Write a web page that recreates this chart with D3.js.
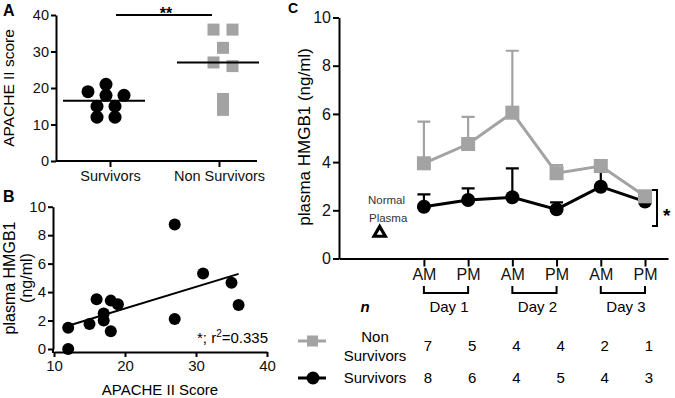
<!DOCTYPE html>
<html>
<head>
<meta charset="utf-8">
<script src="https://cdn.jsdelivr.net/npm/d3@7"></script>
<style>
  body { margin: 0; background: #fff; }
  svg { display: block; font-family: Arial, "Liberation Sans", sans-serif; }
  .axis { font-family: Arial, "Liberation Sans", sans-serif; }
  .axis path, .axis line { stroke: #000; stroke-width: 2; }
  .axis text { fill: #111; }
</style>
</head>
<body>
<div id="figure"></div>
<script>
// ---- panel A: APACHE II score by outcome
const groupNames = ["Survivors", "Non Survivors"];
const survivorsApache = [21, 18, 18, 19, 15, 15, 12, 12];
const nonSurvivorsApache = [36, 36, 31, 27, 26, 17, 14];

// ---- panel B: HMGB1 vs APACHE II
const apacheScore = [12, 12, 15, 16, 17, 17, 18, 18, 19, 27, 27, 31, 35, 36];
const plasmaHmgb1 = [1.5, 0, 1.75, 3.5, 2.5, 2.0, 3.4, 1.25, 3.15, 8.75, 2.1, 5.3, 4.65, 3.1];

// ---- panel C: time course
const timeLabels = ["AM", "PM", "AM", "PM", "AM", "PM"];
const dayLabels = ["Day 1", "Day 2", "Day 3"];
const nonSurvMean = [3.95, 4.75, 6.05, 3.54, 3.84, 2.58];
const nonSurvUpper = [5.68, 5.88, 8.62, 3.88, 3.95, 2.58];
const survMean = [2.15, 2.43, 2.54, 2.04, 2.98, 2.36];
const survUpper = [2.66, 2.91, 3.74, 2.33, 3.6, 2.36];
const nonSurvN = [7, 5, 4, 4, 2, 1];
const survN = [8, 6, 4, 5, 4, 3];
const normalPlasma = 1.1;

const GREY = "#a3a3a3";

function drawFigure() {
    d3.select("svg").remove();

    const svg = d3.select("#figure")
        .append("svg")
        .attr("width", 675)
        .attr("height", 398);

    const letter = (t, x, y, size) => svg.append("text")
        .attr("x", x).attr("y", y)
        .attr("font-size", size).attr("font-weight", "bold")
        .text(t);

    // ================= A =================
    const gA = svg.append("g");
    const yA = d3.scaleLinear().domain([0, 40]).range([161, 15]);
    const xA = d3.scalePoint().domain(groupNames).range([110, 219]);

    gA.append("g")
        .attr("class", "axis")
        .attr("transform", "translate(56,0)")
        .call(d3.axisLeft(yA).ticks(4).tickSize(5).tickSizeOuter(0).tickPadding(2))
        .selectAll("text").attr("font-size", 14.5);

    const xAxisA = gA.append("g")
        .attr("class", "axis")
        .attr("transform", `translate(0,${yA(0)})`)
        .call(d3.axisBottom(xA).tickSize(6).tickSizeOuter(0).tickPadding(4));
    xAxisA.select(".domain").attr("d", "M56,0H257");
    xAxisA.selectAll("text").attr("font-size", 14.5);

    // arrange dots in rows, like a column scatter
    function rowLayout(values, cx, gap) {
        const pts = values.map(v => ({ v })).sort((a, b) => b.v - a.v);
        const rows = [];
        pts.forEach(p => {
            const last = rows[rows.length - 1];
            if (last && yA(p.v) - yA(last[0].v) < 6) last.push(p);
            else rows.push([p]);
        });
        rows.forEach(r => r.forEach((p, k) => { p.x = cx + (k - (r.length - 1) / 2) * gap; }));
        return pts;
    }

    gA.append("g").selectAll("circle")
        .data(rowLayout(survivorsApache, xA("Survivors") - 4, 18))
        .enter().append("circle")
        .attr("cx", d => d.x)
        .attr("cy", d => yA(d.v))
        .attr("r", 6.5)
        .attr("fill", "#000");

    gA.append("g").selectAll("rect")
        .data(rowLayout(nonSurvivorsApache, xA("Non Survivors") + 4, 19))
        .enter().append("rect")
        .attr("x", d => d.x - 6)
        .attr("y", d => yA(d.v) - 6)
        .attr("width", 12).attr("height", 12)
        .attr("fill", GREY);

    [survivorsApache, nonSurvivorsApache].forEach((vals, i) => {
        const m = d3.median(vals);
        const cx = xA(groupNames[i]) - (i === 0 ? 5 : 0);
        gA.append("line")
            .attr("x1", cx - 42).attr("x2", cx + 40)
            .attr("y1", yA(m)).attr("y2", yA(m))
            .attr("stroke", "#000").attr("stroke-width", 2);
    });

    gA.append("line")
        .attr("x1", 116).attr("x2", 212)
        .attr("y1", yA(40)).attr("y2", yA(40))
        .attr("stroke", "#000").attr("stroke-width", 2);
    gA.append("text")
        .attr("x", 166).attr("y", 19)
        .attr("text-anchor", "middle")
        .attr("font-size", 16).attr("font-weight", "bold")
        .text("**");

    gA.append("text")
        .attr("transform", "translate(14,88) rotate(-90)")
        .attr("text-anchor", "middle")
        .attr("font-size", 15.5)
        .text("APACHE II score");

    letter("A", 3, 16, 16);

    // ================= B =================
    const gB = svg.append("g");
    const xB = d3.scaleLinear().domain([10, 40]).range([54, 267]);
    const yB = d3.scaleLinear().domain([0, 10]).range([349, 206.7]);

    gB.append("g")
        .attr("class", "axis")
        .attr("transform", "translate(53,0)")
        .call(d3.axisLeft(yB).ticks(5).tickSize(5).tickSizeOuter(0).tickPadding(2))
        .selectAll("text").attr("font-size", 15);

    gB.append("g")
        .attr("class", "axis")
        .attr("transform", `translate(0,${yB(0) + 3})`)
        .call(d3.axisBottom(xB).ticks(3).tickSize(5).tickSizeOuter(0).tickPadding(3))
        .selectAll("text").attr("font-size", 15);

    gB.append("line")
        .attr("x1", 53).attr("x2", 53)
        .attr("y1", yB(0)).attr("y2", yB(0) + 4)
        .attr("stroke", "#000").attr("stroke-width", 2);

    // least-squares fit
    const mx = d3.mean(apacheScore), my = d3.mean(plasmaHmgb1);
    const sxy = d3.sum(apacheScore, (x, i) => (x - mx) * (plasmaHmgb1[i] - my));
    const sxx = d3.sum(apacheScore, x => (x - mx) ** 2);
    const slope = sxy / sxx, icpt = my - slope * mx;
    const ext = d3.extent(apacheScore);

    gB.append("line")
        .attr("x1", xB(ext[0])).attr("y1", yB(icpt + slope * ext[0]))
        .attr("x2", xB(ext[1])).attr("y2", yB(icpt + slope * ext[1]))
        .attr("stroke", "#000").attr("stroke-width", 2);

    gB.append("g").selectAll("circle")
        .data(apacheScore)
        .enter().append("circle")
        .attr("cx", d => xB(d))
        .attr("cy", (d, i) => yB(plasmaHmgb1[i]))
        .attr("r", 6)
        .attr("fill", "#000");

    const r2 = gB.append("text")
        .attr("x", 268).attr("y", 343)
        .attr("text-anchor", "end")
        .attr("font-size", 15);
    r2.append("tspan").text("*; r");
    r2.append("tspan").attr("dy", -6).attr("font-size", 10).text("2");
    r2.append("tspan").attr("dy", 6).text("=0.335");

    gB.append("text")
        .attr("x", 160).attr("y", 395)
        .attr("text-anchor", "middle")
        .attr("font-size", 15)
        .text("APACHE II Score");

    const ylB = gB.append("text")
        .attr("transform", "translate(0,278) rotate(-90)")
        .attr("text-anchor", "middle")
        .attr("font-size", 16);
    ylB.append("tspan").attr("x", 0).attr("y", 15).text("plasma HMGB1");
    ylB.append("tspan").attr("x", 0).attr("y", 32).text("(ng/ml)");

    letter("B", 3, 202, 16);

    // ================= C =================
    const gC = svg.append("g");
    const xC = d3.scaleLinear().domain([-0.92, 6.52]).range([339, 668]);
    const yC = d3.scaleLinear().domain([0, 10]).range([258.5, 17.5]);
    const idx = d3.range(1, timeLabels.length + 1);

    gC.append("g")
        .attr("class", "axis")
        .attr("transform", "translate(339,0)")
        .call(d3.axisLeft(yC).ticks(5).tickSize(6).tickSizeOuter(0).tickPadding(2))
        .selectAll("text").attr("font-size", 16);

    gC.append("g")
        .attr("class", "axis")
        .attr("transform", `translate(0,${yC(0)})`)
        .call(d3.axisBottom(xC).tickValues(idx).tickFormat(i => timeLabels[i - 1])
            .tickSize(8).tickSizeOuter(0).tickPadding(2))
        .selectAll("text").attr("font-size", 16);

    gC.append("text")
        .attr("transform", "translate(310,137) rotate(-90)")
        .attr("text-anchor", "middle")
        .attr("font-size", 17)
        .text("plasma HMGB1 (ng/ml)");

    // day brackets
    dayLabels.forEach((d, k) => {
        const x0 = xC(2 * k + 1), x1 = xC(2 * k + 2);
        gC.append("path")
            .attr("d", `M${x0},286V293H${x1}V286`)
            .attr("fill", "none").attr("stroke", "#000").attr("stroke-width", 2);
        gC.append("text")
            .attr("x", (x0 + x1) / 2 + 3).attr("y", 312)
            .attr("text-anchor", "middle")
            .attr("font-size", 15)
            .text(d);
    });

    const line = d3.line().x((d, i) => xC(i + 1)).y(d => yC(d));

    function series(mean, upper, color, shape) {
        const g = gC.append("g");
        g.selectAll(".err")
            .data(mean)
            .enter().append("path")
            .attr("d", (d, i) => {
                const x = xC(i + 1), y0 = yC(d), y1 = yC(upper[i]);
                return `M${x},${y0}V${y1}M${x - 6.5},${y1}H${x + 6.5}`;
            })
            .attr("fill", "none").attr("stroke", color).attr("stroke-width", 2.2);
        g.append("path")
            .datum(mean)
            .attr("d", line)
            .attr("fill", "none").attr("stroke", color).attr("stroke-width", 3);
        if (shape === "circle") {
            g.selectAll("circle").data(mean).enter().append("circle")
                .attr("cx", (d, i) => xC(i + 1)).attr("cy", d => yC(d))
                .attr("r", 7).attr("fill", color);
        } else {
            g.selectAll("rect").data(mean).enter().append("rect")
                .attr("x", (d, i) => xC(i + 1) - 7).attr("y", d => yC(d) - 7)
                .attr("width", 14).attr("height", 14).attr("fill", color);
        }
    }
    series(survMean, survUpper, "#000", "circle");
    series(nonSurvMean, nonSurvUpper, GREY, "square");

    // normal plasma
    gC.append("path")
        .attr("d", d3.symbol(d3.symbolTriangle, 55)())
        .attr("transform", `translate(${xC(0)},${yC(normalPlasma) + 1})`)
        .attr("fill", "#fff").attr("stroke", "#000").attr("stroke-width", 3.2);
    gC.append("text").attr("x", 368).attr("y", 204)
        .attr("font-size", 11.5).attr("fill", "#333").text("Normal");
    gC.append("text").attr("x", 369).attr("y", 222)
        .attr("font-size", 11.5).attr("fill", "#333").text("Plasma");

    // significance bracket
    const bx = 657;
    gC.append("path")
        .attr("d", `M${bx - 5},${yC(2.84)}H${bx}V${yC(1.35)}H${bx - 5}`)
        .attr("fill", "none").attr("stroke", "#000").attr("stroke-width", 2);
    gC.append("text").attr("x", 663).attr("y", 222)
        .attr("font-size", 19).attr("font-weight", "bold").text("*");

    // n table
    gC.append("text").attr("x", 365).attr("y", 312)
        .attr("text-anchor", "middle")
        .attr("font-size", 15).attr("font-weight", "bold").attr("font-style", "italic")
        .text("n");

    const rows = [
        { label: ["Non", "Survivors"], n: nonSurvN, color: GREY, shape: "square", markY: 341, textY: 351 },
        { label: ["Survivors"], n: survN, color: "#000", shape: "circle", markY: 378, textY: 383 }
    ];
    rows.forEach(r => {
        gC.append("line")
            .attr("x1", 298).attr("x2", 326)
            .attr("y1", r.markY).attr("y2", r.markY)
            .attr("stroke", r.color).attr("stroke-width", 3);
        if (r.shape === "circle") {
            gC.append("circle").attr("cx", 313).attr("cy", r.markY).attr("r", 6.5).attr("fill", r.color);
        } else {
            gC.append("rect").attr("x", 307).attr("y", r.markY - 5.5)
                .attr("width", 11).attr("height", 11).attr("fill", r.color);
        }
        const t = gC.append("text")
            .attr("text-anchor", "middle")
            .attr("font-size", 15);
        if (r.label.length === 2) {
            t.append("tspan").attr("x", 375).attr("y", 342).text(r.label[0]);
            t.append("tspan").attr("x", 375).attr("y", 361).text(r.label[1]);
        } else {
            t.append("tspan").attr("x", 375).attr("y", r.textY).text(r.label[0]);
        }
        gC.append("g").selectAll("text")
            .data(r.n)
            .enter().append("text")
            .attr("x", (d, i) => xC(i + 1) + 4)
            .attr("y", r.textY)
            .attr("text-anchor", "middle")
            .attr("font-size", 15)
            .text(d => d);
    });

    letter("C", 288, 13, 14);
}

drawFigure();
</script>
</body>
</html>
